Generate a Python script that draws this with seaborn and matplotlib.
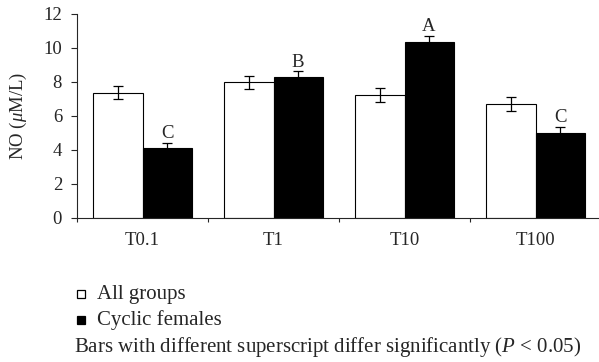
import matplotlib
matplotlib.use("Agg")
import matplotlib.pyplot as plt
import seaborn as sns
import pandas as pd
from matplotlib.lines import Line2D

categories = ["T0.1", "T1", "T10", "T100"]
series = ["All groups", "Cyclic females"]
all_groups = [7.37, 7.98, 7.24, 6.70]
all_groups_err = [0.38, 0.40, 0.43, 0.40]
cyclic = [4.10, 8.27, 10.33, 4.98]
cyclic_err = [0.33, 0.35, 0.40, 0.37]
letters = ["C", "B", "A", "C"]
yticks = [0, 2, 4, 6, 8, 10, 12]

FS = 13.5
FS_NOTE = 15
sns.set_style("ticks")
plt.rcParams["font.family"] = ["Liberation Serif", "DejaVu Serif"]
plt.rcParams["mathtext.fontset"] = "custom"
plt.rcParams["mathtext.rm"] = "Liberation Serif"
plt.rcParams["mathtext.it"] = "Liberation Serif:italic"

df = pd.DataFrame({
    "cat": categories * 2,
    "series": [series[0]] * 4 + [series[1]] * 4,
    "val": all_groups + cyclic,
    "err": all_groups_err + cyclic_err,
})

fig = plt.figure(figsize=(5.99, 3.62), dpi=100)
ax = fig.add_axes([77 / 599, 1 - 218 / 362, 524 / 599, 204 / 362])

sns.barplot(data=df, x="cat", y="val", hue="series", order=categories,
            hue_order=series, palette=["white", "black"], width=0.75,
            errorbar=None, edgecolor="black", linewidth=0.8, ax=ax,
            legend=False, saturation=1)

bars = [p for p in ax.patches if p.get_height() > 0]
for i, p in enumerate(bars[:8]):
    s = 0 if i < 4 else 1
    c = i % 4
    x = p.get_x() + p.get_width() / 2
    v = (all_groups if s == 0 else cyclic)[c]
    e = (all_groups_err if s == 0 else cyclic_err)[c]
    ax.errorbar(x, v, yerr=e, fmt="none", ecolor="black", elinewidth=0.9,
                capsize=3.5, capthick=0.9, zorder=3)
    if s == 1:
        ax.text(x, v + e + 0.05, letters[c], ha="center", va="bottom",
                fontsize=FS)

ax.set_xlim(-0.5, 3.5)
ax.set_ylim(0, 12)
ax.set_yticks(yticks)
ax.set_yticklabels([str(t) for t in yticks], fontsize=FS)
ax.set_xticks([-0.5, 0.5, 1.5, 2.5, 3.5])
ax.set_xticklabels([])
ax.set_xticks(range(4), minor=True)
ax.set_xticklabels(categories, minor=True, fontsize=FS)
ax.tick_params(axis="x", which="minor", length=0, pad=10)
ax.tick_params(axis="x", which="major", length=3, width=0.8, direction="out")
ax.tick_params(axis="y", length=4.3, width=0.8, direction="out", pad=6.5)
ax.set_xlabel("")
ax.set_ylabel(r"NO ($\mu$M/L)", fontsize=FS, labelpad=10)
for s in ["top", "right"]:
    ax.spines[s].set_visible(False)
for s in ["left", "bottom"]:
    ax.spines[s].set_linewidth(0.8)

# legend drawn manually below the axes
legend_rows = [(294, "white"), (320, "black")]
for (ypix, fc), label in zip(legend_rows, series):
    yf = 1 - ypix / 362
    fig.add_artist(Line2D([81 / 599], [yf], marker="s", markersize=5.5,
                          markerfacecolor=fc, markeredgecolor="black",
                          markeredgewidth=0.9, linestyle="none",
                          transform=fig.transFigure))
    fig.text(97 / 599, yf, label, ha="left", va="center", fontsize=FS_NOTE)

fig.text(74 / 599, 1 - 347 / 362,
         r"Bars with different superscript differ significantly ($\mathit{P}$ < 0.05)",
         ha="left", va="center", fontsize=FS_NOTE)

fig.savefig("out.png", dpi=100)
